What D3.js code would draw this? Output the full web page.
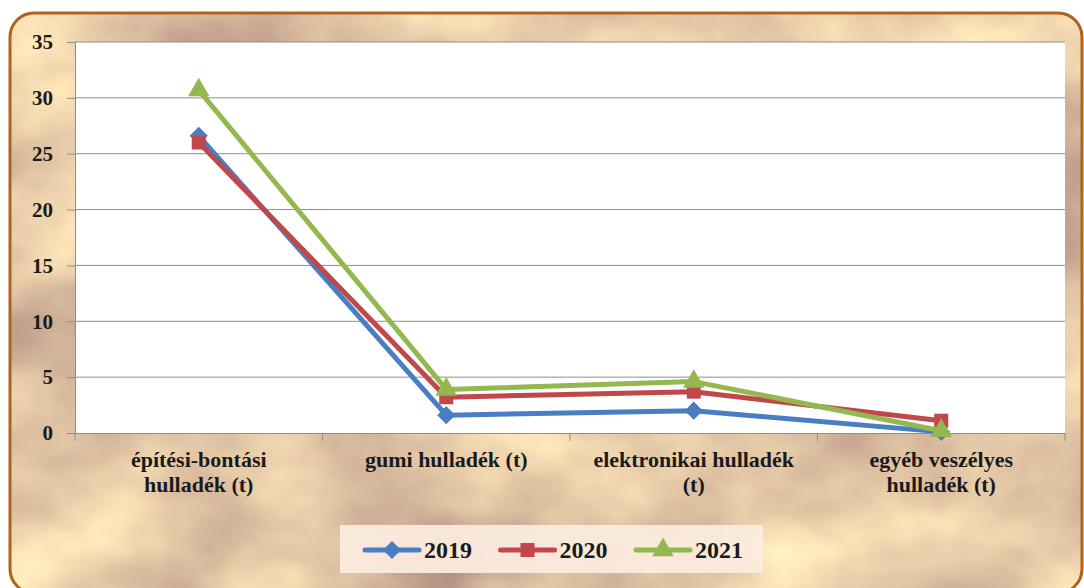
<!DOCTYPE html>
<html>
<head>
<meta charset="utf-8">
<script src="https://cdn.jsdelivr.net/npm/d3@7"></script>
<style>
  body { margin: 0; background: #fff; }
  svg { display: block; }
</style>
</head>
<body>
<svg id="chart" width="1084" height="588"></svg>
<script>
const categories = ["építési-bontási\nhulladék (t)", "gumi hulladék (t)", "elektronikai hulladék\n(t)", "egyéb veszélyes\nhulladék (t)"];
const years = ["2019", "2020", "2021"];
const values2019 = [26.6, 1.6, 2.0, 0.1];
const values2020 = [26.0, 3.2, 3.7, 1.1];
const values2021 = [30.7, 3.9, 4.6, 0.2];
const yTicks = [0, 5, 10, 15, 20, 25, 30, 35];

const width = 1084;
const height = 588;
const margin = { top: 42, right: 19, bottom: 155, left: 75 };
const innerWidth = width - margin.left - margin.right;
const innerHeight = height - margin.top - margin.bottom;

const colors = { "2019": "#4a7ec2", "2020": "#c0474a", "2021": "#93b850" };
const shapes = { "2019": d3.symbolDiamond2, "2020": d3.symbolSquare2, "2021": d3.symbolTriangle2 };
const sizes = { "2019": 210, "2020": 250, "2021": 330 };
const series = [
  { year: "2019", values: values2019 },
  { year: "2020", values: values2020 },
  { year: "2021", values: values2021 }
];

// pick the first serif font that really exists
function pickFont(list) {
  const ctx = document.createElement("canvas").getContext("2d");
  const sample = "hulladék építési 2019 mmmWWlli";
  const base = {};
  ["monospace", "sans-serif"].forEach(b => {
    ctx.font = `bold 40px ${b}`;
    base[b] = ctx.measureText(sample).width;
  });
  for (const f of list) {
    const ok = ["monospace", "sans-serif"].some(b => {
      ctx.font = `bold 40px "${f}", ${b}`;
      return ctx.measureText(sample).width !== base[b];
    });
    if (ok) return `"${f}", serif`;
  }
  return "serif";
}
const font = pickFont(["Liberation Serif", "DejaVu Serif", "Noto Serif", "Tinos", "FreeSerif", "Times New Roman"]);

const svg = d3.select("#chart");
const defs = svg.append("defs");

// parchment background
const filter = defs.append("filter").attr("id", "parch")
  .attr("x", 0).attr("y", 0).attr("width", 1).attr("height", 1)
  .attr("color-interpolation-filters", "sRGB");
filter.append("feTurbulence").attr("type", "fractalNoise")
  .attr("baseFrequency", "0.006 0.008").attr("numOctaves", 4).attr("seed", 11);
filter.append("feColorMatrix").attr("type", "matrix")
  .attr("values", "0.42 0 0 0 0.68  0.48 0 0 0 0.54  0.3 0 0 0 0.5  0 0 0 0 1");

defs.append("clipPath").attr("id", "frame")
  .append("rect").attr("x", 10).attr("y", 13).attr("width", 1072).attr("height", 580).attr("rx", 24);

svg.append("rect")
  .attr("x", 10).attr("y", 13).attr("width", 1072).attr("height", 580)
  .attr("clip-path", "url(#frame)")
  .attr("filter", "url(#parch)");

svg.append("rect")
  .attr("x", 10).attr("y", 13).attr("width", 1072).attr("height", 580).attr("rx", 24)
  .attr("fill", "none").attr("stroke", "#b0621e").attr("stroke-width", 3);

const g = svg.append("g").attr("transform", `translate(${margin.left},${margin.top})`);

const x = d3.scalePoint().domain(categories).range([0, innerWidth]).padding(0.5);
const xBand = d3.scaleBand().domain(categories).range([0, innerWidth]);
const y = d3.scaleLinear().domain([0, 35]).range([innerHeight, 0]);

g.append("rect").attr("width", innerWidth).attr("height", innerHeight).attr("fill", "#fff");

// gridlines
g.selectAll(".grid").data(yTicks.slice(1)).join("line")
  .attr("x1", 0).attr("x2", innerWidth)
  .attr("y1", d => y(d)).attr("y2", d => y(d))
  .attr("stroke", "#8e8e8e").attr("stroke-width", 1);

// y axis
const yAxis = g.append("g").call(d3.axisLeft(y).tickValues(yTicks).tickSize(8).tickPadding(14));
yAxis.select(".domain").attr("stroke", "#8e8e8e");
yAxis.selectAll(".tick line").attr("stroke", "#8e8e8e");
yAxis.selectAll(".tick text")
  .style("font-family", font).style("font-weight", "bold").style("font-size", "21px").attr("fill", "#1a1a1a");

// x axis
const xAxis = g.append("g").attr("transform", `translate(0,${innerHeight})`)
  .call(d3.axisBottom(xBand).tickSize(0).tickFormat(""));
xAxis.select(".domain").attr("stroke", "#8e8e8e");
xAxis.selectAll(".sep").data(d3.range(categories.length + 1)).join("line")
  .attr("x1", i => i * xBand.step()).attr("x2", i => i * xBand.step())
  .attr("y1", 0).attr("y2", 8).attr("stroke", "#8e8e8e");

// category labels
categories.forEach(c => {
  const t = g.append("text")
    .attr("x", x(c)).attr("y", innerHeight + 34)
    .attr("text-anchor", "middle").attr("fill", "#1a1a1a")
    .style("font-family", font).style("font-weight", "bold").style("font-size", "22px");
  c.split("\n").forEach((part, i) => {
    t.append("tspan").attr("x", x(c)).attr("dy", i === 0 ? 0 : 25).text(part);
  });
});

// lines and markers
const line = d3.line().x((d, i) => x(categories[i])).y(d => y(d));
series.forEach(s => {
  g.append("path").datum(s.values)
    .attr("d", line).attr("fill", "none")
    .attr("stroke", colors[s.year]).attr("stroke-width", 5).attr("stroke-linejoin", "round");
  g.selectAll(".m" + s.year).data(s.values).join("path")
    .attr("transform", (d, i) => `translate(${x(categories[i])},${y(d)})`)
    .attr("d", d3.symbol().type(shapes[s.year]).size(sizes[s.year]))
    .attr("fill", colors[s.year]);
});

// legend
const legend = svg.append("g");
legend.append("rect").attr("x", 340).attr("y", 525).attr("width", 423).attr("height", 48)
  .attr("fill", "#fcede0").attr("opacity", 0.92);
const legendX = d3.scalePoint().domain(years).range([365, 636]);
years.forEach(yr => {
  const lx = legendX(yr);
  legend.append("line").attr("x1", lx).attr("x2", lx + 54).attr("y1", 550).attr("y2", 550)
    .attr("stroke", colors[yr]).attr("stroke-width", 5).attr("stroke-linecap", "round");
  legend.append("path").attr("transform", `translate(${lx + 27},550)`)
    .attr("d", d3.symbol().type(shapes[yr]).size(sizes[yr])).attr("fill", colors[yr]);
  legend.append("text").attr("x", lx + 59).attr("y", 558).attr("fill", "#1a1a1a")
    .style("font-family", font).style("font-weight", "bold").style("font-size", "24px")
    .text(yr);
});
</script>
</body>
</html>
